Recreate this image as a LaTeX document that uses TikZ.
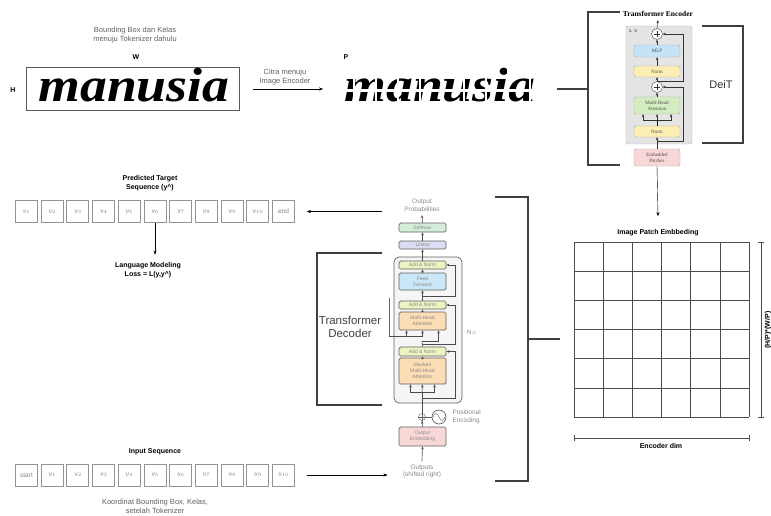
\documentclass[tikz,border=0pt]{standalone}
\usepackage{fontspec}
\setsansfont{Liberation Sans}
\renewcommand{\familydefault}{\sfdefault}
\newfontfamily\tnr{Liberation Serif}
\usepackage{tikz}
\usetikzlibrary{arrows.meta,positioning}
\usepackage{xcolor}

\definecolor{encgray}{HTML}{E4E4E4}
\definecolor{mlpblue}{HTML}{C6E2F7}
\definecolor{normyel}{HTML}{FCEFB4}
\definecolor{attgreen}{HTML}{D3EDC1}
\definecolor{embpink}{HTML}{F8D7D7}
\definecolor{addyel}{HTML}{EEF3C2}
\definecolor{ffblue}{HTML}{C9E7F6}
\definecolor{attorange}{HTML}{FBDDB6}
\definecolor{linpurple}{HTML}{DCDCF2}
\definecolor{softgreen}{HTML}{D4EDD8}
\definecolor{dectxt}{HTML}{8A8A8A}

\begin{document}
\begin{tikzpicture}[x=1pt,y=-1pt,>={Stealth[length=4pt,width=3.2pt]},
  tok/.style={draw=gray!85,line width=0.9pt,minimum width=22pt,
    minimum height=22pt,inner sep=0pt,text=gray,font=\fontsize{6.5}{7}\selectfont},
  lbl/.style={font=\bfseries\fontsize{7}{9}\selectfont,align=center},
  note/.style={text=gray!75!black,font=\fontsize{7.5}{9}\selectfont,align=center},
  eblk/.style={draw=gray!65,rounded corners=1.5pt,minimum width=46pt,inner sep=0pt,
    align=center,font=\tnr\fontsize{5}{6}\selectfont,text=black!70},
  dblk/.style={draw=gray!75!black,line width=0.7pt,rounded corners=1.5pt,minimum width=47pt,
    inner sep=0pt,align=center,text=dectxt,font=\fontsize{5}{6}\selectfont},
  dtxt/.style={text=dectxt,font=\fontsize{6.5}{7.5}\selectfont,align=center},
  ea/.style={-{Stealth[length=3pt,width=2.5pt]},draw=black!80},
  dea/.style={-{Stealth[length=3pt,width=2.5pt]},draw=black!70,line width=0.6pt},
  brk/.style={draw=black!75,line width=1.2pt},
  plusc/.style={circle,draw=black!70,fill=white,inner sep=0pt,minimum size=11pt},
  hand/.style={font=\tnr\bfseries\itshape\fontsize{48}{48}\selectfont,anchor=base,xscale=1.12,inner sep=0pt}]
\useasboundingbox (0,0) rectangle (771,516);

% input image and its patches
\node[note] (bbnote) at (135,35) {Bounding Box dan Kelas\\menuju Tokenizer dahulu};
\node[lbl] (wlab) at (136,57) {W};
\node[lbl] (hlab) at (13,90) {H};
\node[draw=gray!70!black,minimum width=213pt,minimum height=43pt,inner sep=0pt] (img) at (132.5,88.5) {};
\node[hand] (word) at (134,102) {manusia};
\node[note] (citra) at (285,77) {Citra menuju\\Image Encoder};
\coordinate (a1) at (253,89);
\coordinate (a2) at (323,89);
\draw[->] (a1) -- (a2);
\node[lbl] (plab) at (346,57) {P};
\node[hand] (patch) at (440,102) {manusia};
\foreach \x in {354,376,...,548} \draw[white,line width=2.2pt] (\x,60) -- (\x,116);
\draw[white,line width=3pt] (330,91) -- (552,91);

% encoder bracket
\coordinate (encl) at (557,89);
\draw[brk] (encl) -- (588,89);
\draw[brk] (620,12) -- (588,12) -- (588,165) -- (620,165);

% transformer encoder
\node[font=\tnr\bfseries\fontsize{7.5}{8}\selectfont] (enctitle) at (658,14) {Transformer Encoder};
\node[draw=gray!60,fill=encgray,rounded corners=2pt,minimum width=66pt,minimum height=118pt] (encbox) at (659,85) {};
\node[font=\tnr\fontsize{4.5}{5}\selectfont] (lx) at (634,31) {L $\times$};
\node[plusc] (plus1) at (657,34) {};
\node[eblk,fill=mlpblue,minimum height=12pt] (mlp) at (657,51) {MLP};
\node[eblk,fill=normyel,minimum height=11pt] (norm1) at (657,71.5) {Norm};
\node[plusc] (plus2) at (657,87) {};
\node[eblk,fill=attgreen,minimum height=17pt] (mha) at (657,105.5) {Multi-Head\\Attention};
\node[eblk,fill=normyel,minimum height=11pt] (norm2) at (657,131.5) {Norm};
\node[eblk,fill=embpink,minimum height=17pt] (emb) at (657,157.5) {Embedded\\Patches};
\foreach \p in {plus1,plus2}
  \draw[black!80] ([yshift=3pt]\p.center) -- ([yshift=-3pt]\p.center)
    ([xshift=-3pt]\p.center) -- ([xshift=3pt]\p.center);
\draw[ea] (emb.north) -- (norm2.south);
\coordinate (eb1) at (657,120);
\draw (norm2.north) -- (eb1);
\draw[ea] (eb1) -- (mha.south);
\draw[ea] (eb1) -| ([xshift=-14pt]mha.south);
\draw[ea] (eb1) -| ([xshift=14pt]mha.south);
\draw[ea] (mha.north) -- (plus2.south);
\draw[ea] (plus2.north) -- (norm1.south);
\coordinate (er1) at (657,141);
\draw[ea] (er1) -- (683,141) |- (plus2.east);
\draw[ea] (norm1.north) -- (mlp.south);
\draw[ea] (mlp.north) -- (plus1.south);
\coordinate (er2) at (657,81);
\draw[ea] (er2) -- (683,81) |- (plus1.east);
\draw[ea] (plus1.north) -- (enctitle.south);

% DeiT
\draw[brk] (702,26) -- (743,26) -- (743,143) -- (702,143);
\node[font=\fontsize{11}{12}\selectfont,text=black!80] (deit) at (721,85) {DeiT};

% patch embedding grid
\node[lbl] (ipe) at (658,233) {Image Patch Embbeding};
\draw[->] (emb.south) -- ([yshift=10pt]ipe.north);
\node[minimum width=175pt,minimum height=175pt,inner sep=0pt] (grid) at (661.5,329.5) {};
\foreach \i in {0,...,6} {
  \draw[black!70] (574+\i*29.1667,242) -- (574+\i*29.1667,417);
  \draw[black!70] (574,242+\i*29.1667) -- (749,242+\i*29.1667);
}
\draw[{Bar[width=6pt]}-{Bar[width=6pt]},black!70] (761,242) -- (761,417);
\node[lbl,rotate=90] (hw) at (768,330) {(H/P)*(W/P)};
\draw[{Bar[width=6pt]}-{Bar[width=6pt]},black!70] (574,438) -- (749,438);
\node[lbl] (edim) at (661,446) {Encoder dim};

% bracket from decoder to grid
\draw[brk] (495,197) -- (528,197) -- (528,481) -- (495,481);
\coordinate (gridl) at (560,339);
\draw[brk] (528,339) -- (gridl);

% transformer decoder bracket
\draw[brk] (382,253) -- (317,253) -- (317,405) -- (382,405);
\node[font=\fontsize{11.5}{13}\selectfont,text=black!75,align=center] (tdec) at (350,327) {Transformer\\Decoder};

% transformer decoder
\node[dtxt] (oprob) at (422,205.5) {Output\\Probabilities};
\node[dblk,fill=softgreen,minimum height=9pt] (soft) at (422.5,227.5) {Softmax};
\node[dblk,fill=linpurple,minimum height=8pt] (lin) at (422.5,245) {Linear};
\node[draw=gray!75!black,line width=0.7pt,fill=gray!8,rounded corners=5pt,minimum width=68pt,minimum height=146pt] (decbox) at (428,330) {};
\node[dblk,fill=addyel,minimum height=8pt] (an1) at (422.5,265) {Add \& Norm};
\node[dblk,fill=ffblue,minimum height=17pt] (ff) at (422.5,281.5) {Feed\\Forward};
\node[dblk,fill=addyel,minimum height=8pt] (an2) at (422.5,305) {Add \& Norm};
\node[dblk,fill=attorange,minimum height=18pt] (dmha) at (422.5,321) {Multi-Head\\Attention};
\node[dblk,fill=addyel,minimum height=9pt] (an3) at (422.5,351.5) {Add \& Norm};
\node[dblk,fill=attorange,minimum height=26pt] (mmha) at (422.5,371) {Masked\\Multi-Head\\Attention};
\node[circle,draw=gray!75!black,minimum size=7pt,inner sep=0pt] (dplus) at (422,417) {};
\draw[gray!75!black] (dplus.north) -- (dplus.south) (dplus.west) -- (dplus.east);
\node[circle,draw=gray!75!black,line width=0.7pt,minimum size=14pt,inner sep=0pt] (pe) at (439,417) {};
\draw[gray!75!black] (433,417) sin (436,413.5) cos (439,417) sin (442,420.5) cos (445,417);
\draw[gray!75!black] (dplus.east) -- (pe.west);
\node[dtxt,anchor=west,align=left] (petxt) at (449,417) {Positional\\Encoding};
\node[dblk,fill=embpink,minimum height=19pt] (oemb) at (422.5,436.5) {Output\\Embedding};
\node[dtxt] (outs) at (422,471.5) {Outputs\\(shifted right)};
\node[dtxt] (nx) at (472,333) {N$\times$};
\draw[dea] (outs.north) -- (oemb.south);
\draw[dea] (oemb.north) -- (dplus.south);
\coordinate (db1) at (422,392);
\draw[draw=black!70,line width=0.6pt] (dplus.north) -- (db1);
\draw[dea] (db1) -- (mmha.south);
\draw[dea] (db1) -| ([xshift=-12pt]mmha.south);
\draw[dea] (db1) -| ([xshift=12pt]mmha.south);
\coordinate (dr1) at (422,398);
\draw[dea] (dr1) -- (455,398) |- (an3.east);
\draw[dea] (mmha.north) -- (an3.south);
\coordinate (dq) at (422,341);
\draw[draw=black!70,line width=0.6pt] (an3.north) -- (dq);
\draw[dea] (dq) -| ([xshift=16pt]dmha.south);
\coordinate (dr2) at (422,344);
\draw[dea] (dr2) -- (455,344) |- (an2.east);
\coordinate (mem) at (389,298);
\coordinate (memb) at (389,336);
\draw[draw=black!60] (mem) -- (memb);
\draw[dea] (memb) -| ([xshift=-16pt]dmha.south);
\draw[dea] (memb) -| (dmha.south);
\draw[dea] (dmha.north) -- (an2.south);
\draw[dea] (an2.north) -- (ff.south);
\coordinate (dr3) at (422,296);
\draw[dea] (dr3) -- (455,296) |- (an1.east);
\draw[dea] (ff.north) -- (an1.south);
\draw[dea] (an1.north) -- (lin.south);
\draw[dea] (lin.north) -- (soft.south);
\draw[dea] (soft.north) -- (oprob.south);

% predicted target sequence
\node[lbl] (pts) at (150,183) {Predicted Target\\Sequence (y\textasciicircum)};
\foreach \i in {1,...,10}
  \node[tok] (p\i) at (26.5+\i*25.7-25.7,211.5) {$y_{\i}$};
\node[tok] (pend) at (283.5,211.5) {end};
\coordinate (outl) at (382,211.5);
\draw[->] (outl) -- ([xshift=12pt]pend.east);
\node[lbl] (lm) at (148,270) {Language Modeling\\Loss = L(y,y\textasciicircum)};
\draw[->] (p6.south) -- ([yshift=4pt]p6.south |- lm.north);

% input sequence
\node[lbl] (inseq) at (155,452) {Input Sequence};
\node[tok] (istart) at (26.5,475) {start};
\foreach \i in {1,...,10}
  \node[tok] (i\i) at (26.5+\i*25.7,475) {$y_{\i}$};
\draw[->] ([xshift=12pt]i10.east) -- ([xshift=-12pt]outs.west |- i10.east);
\node[note] (koor) at (155,506) {Koordinat Bounding Box, Kelas,\\setelah Tokenizer};
\end{tikzpicture}
\end{document}
